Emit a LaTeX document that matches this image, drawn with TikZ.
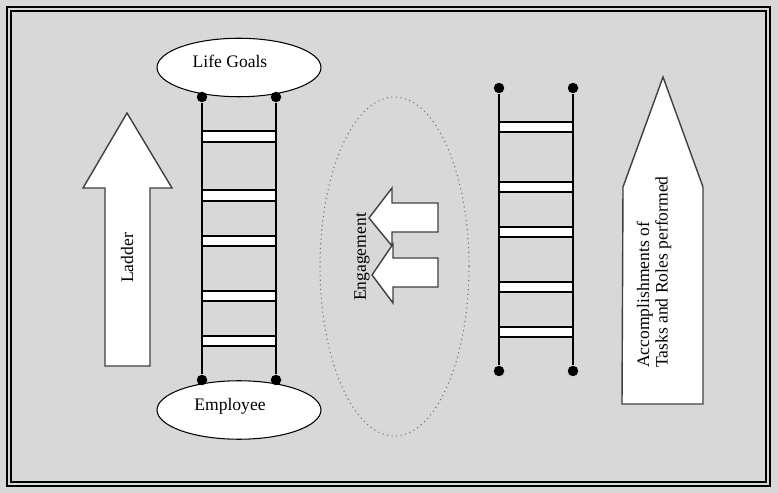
\documentclass[tikz,border=0pt]{standalone}
\usepackage{fontspec}
\setmainfont{Liberation Serif}
\usepackage{xcolor}
\usetikzlibrary{shapes.geometric}
\definecolor{bggray}{RGB}{216,216,216}
\definecolor{dotline}{RGB}{110,110,110}

\begin{document}
\begin{tikzpicture}[x=0.02cm, y=-0.02cm, line width=0.6pt, every node/.style={font=\fontsize{10}{10.6}\selectfont}, oval/.style={draw, ellipse, fill=white, minimum width=3.28cm, minimum height=1.17cm, inner sep=0pt, text height=0.25cm, text depth=0.25cm}, dot/.style={circle, fill=black, inner sep=0pt, minimum size=0.21cm}, rail/.style={line width=0.8pt}, rung/.style={draw=black, fill=white, line width=0.7pt}, arrowshape/.style={draw=black!75, fill=white, line width=0.8pt}]
% background and double frame
\fill[bggray] (0,0) rectangle (778,493);
\draw[line width=1.3pt] (7,7) rectangle (770,486);
\draw[line width=0.6pt] (11,11) rectangle (766,482);

% left upward arrow
\draw[arrowshape] (105,366) -- (105,188) -- (83,188) -- (127,113) -- (172,188) -- (150,188) -- (150,366) -- cycle;
\node[rotate=90] (ladder) at (127,258) {Ladder};

% left ladder with ellipses
\node[oval] (goals) at (239,67.5) {Life Goals\kern0.36cm};
\node[oval] (employee) at (239,410) {Employee\kern0.36cm};
\foreach \a/\b in {131/142, 190/201, 236/246, 291/301, 336/346}
  \draw[rung] (202,\a) rectangle (276,\b);
\node[dot] (la) at (202,97) {};
\node[dot] (lb) at (276,97) {};
\node[dot] (lc) at (202,380) {};
\node[dot] (ld) at (276,380) {};
\draw[rail] (la) -- (lc);
\draw[rail] (lb) -- (ld);

% engagement
\node[draw=dotline, dotted, ellipse, minimum width=2.98cm, minimum height=6.78cm] (engage) at (394.5,266.5) {};
\draw[arrowshape] (438,203) -- (392,203) -- (392,188) -- (369,218) -- (392,246) -- (392,232) -- (438,232) -- cycle;
\draw[arrowshape] (438,258) -- (393,258) -- (393,244) -- (372,275) -- (393,303) -- (393,287) -- (438,287) -- cycle;
\node[rotate=90] (engtext) at (362,257) {Engagement};

% right ladder
\foreach \a/\b in {122/132, 182/192, 227/237, 282/292, 327/337}
  \draw[rung] (499,\a) rectangle (573,\b);
\node[dot] (ra) at (499,88) {};
\node[dot] (rb) at (573,88) {};
\node[dot] (rc) at (499,371) {};
\node[dot] (rd) at (573,371) {};
\draw[rail] (ra) -- (rc);
\draw[rail] (rb) -- (rd);

% pencil arrow
\draw[arrowshape] (622,404) -- (623,187) -- (663,77) -- (703,187) -- (703,404) -- cycle;
\node[rotate=90, align=left] (accomp) at (654,272) {Accomplishments of\\Tasks and Roles performed};
\end{tikzpicture}
\end{document}
